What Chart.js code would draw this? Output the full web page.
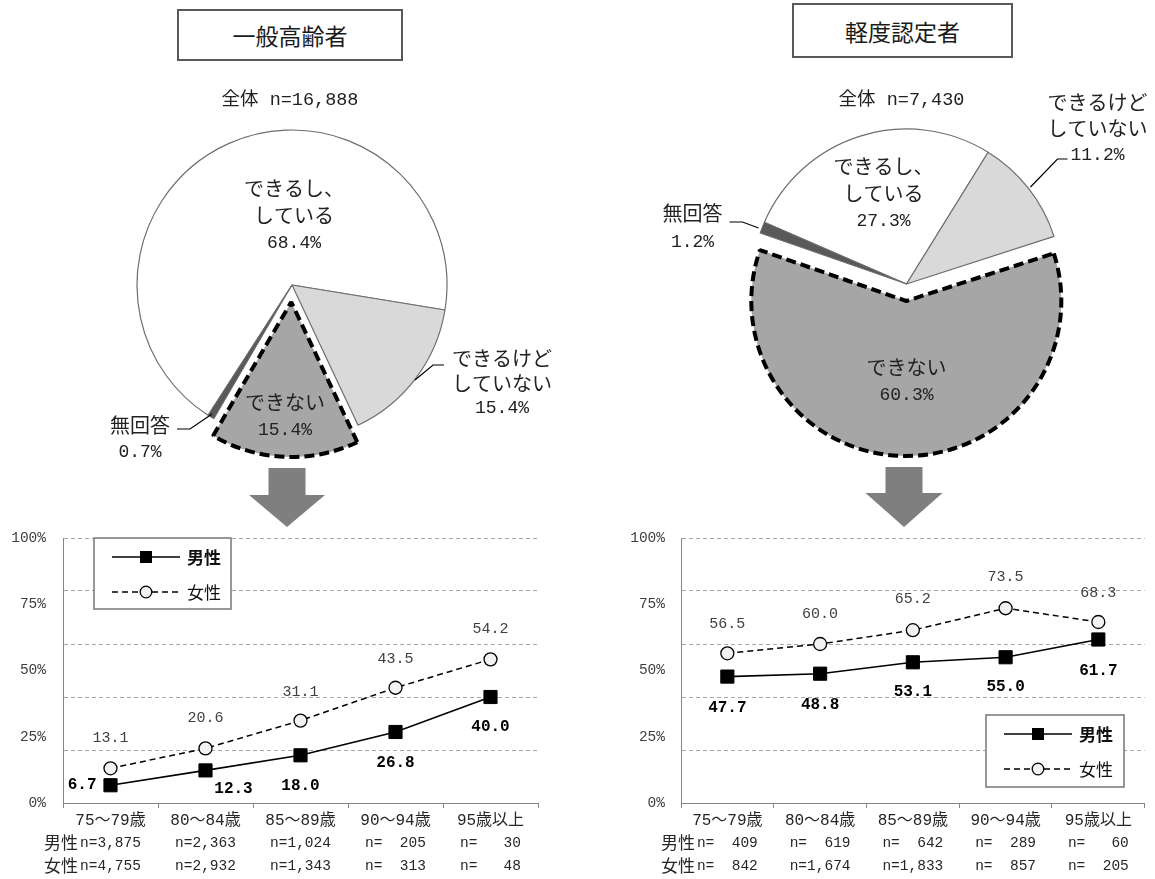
<!DOCTYPE html>
<html lang="ja">
<head>
<meta charset="utf-8">
<script src="https://cdn.jsdelivr.net/npm/chart.js@4/dist/chart.umd.min.js"></script>
<style>
html,body{margin:0;padding:0;background:#fff;width:1155px;height:879px;overflow:hidden;}
body{position:relative;}
canvas{position:absolute;}
.ttl{position:absolute;box-sizing:border-box;border:2px solid #595959;background:#fff;
  font-family:"Noto Sans CJK JP",sans-serif;font-size:23px;color:#1a1a1a;
  display:flex;align-items:center;justify-content:center;}
</style>
</head>
<body>
<div class="ttl" style="left:177px;top:9px;width:226px;height:52px;">一般高齢者</div>
<div class="ttl" style="left:792px;top:3px;width:221px;height:55px;">軽度認定者</div>
<canvas id="pieL" width="577" height="540" style="left:0;top:0"></canvas>
<canvas id="pieR" width="578" height="540" style="left:577px;top:0"></canvas>
<canvas id="lineL" width="577" height="379" style="left:0;top:500px"></canvas>
<canvas id="lineR" width="578" height="379" style="left:577px;top:500px"></canvas>
<script>
// ---- data ----
const pieCategories = ['できるし、している', 'できるけどしていない', 'できない', '無回答'];
const pieGeneral = [68.4, 15.4, 15.4, 0.7];
const pieLight = [27.3, 11.2, 60.3, 1.2];
const totalGeneral = 16888;
const totalLight = 7430;

const ageGroups = ['75～79歳', '80～84歳', '85～89歳', '90～94歳', '95歳以上'];
const generalMale = [6.7, 12.3, 18.0, 26.8, 40.0];
const generalFemale = [13.1, 20.6, 31.1, 43.5, 54.2];
const lightMale = [47.7, 48.8, 53.1, 55.0, 61.7];
const lightFemale = [56.5, 60.0, 65.2, 73.5, 68.3];
const generalMaleN = [3875, 2363, 1024, 205, 30];
const generalFemaleN = [4755, 2932, 1343, 313, 48];
const lightMaleN = [409, 619, 642, 289, 60];
const lightFemaleN = [842, 1674, 1833, 857, 205];

const yLabelTicks = [0, 25, 50, 75, 100];
const yGridTicks = [20, 40, 60, 80, 100];

// ---- fonts / colours ----
const MONO = '"Liberation Mono","Noto Sans CJK JP",monospace';
const JP = '"Noto Sans CJK JP",sans-serif';
const TEXT = '#222222';
const AXIS = '#868686';
const GRID = '#a6a6a6';

const fmtN = n => 'n=' + n.toLocaleString('en-US').padStart(5, ' ');
const pct = v => v.toFixed(1) + '%';

// pulls chosen slices out of the pie along their mid angle, keeping their radius
const explodePlugin = {
  id: 'explode',
  afterDatasetUpdate(chart, args, o) {
    args.meta.data.forEach((arc, i) => {
      const d = (o.distance || [])[i];
      if (!d) return;
      const mid = (arc.startAngle + arc.endAngle) / 2;
      arc.x += Math.cos(mid) * d;
      arc.y += Math.sin(mid) * d;
    });
  }
};

// ---- pie: labels, leader lines and the arrow below ----
const pieTextPlugin = {
  id: 'pieText',
  afterDraw(chart, args, o) {
    const ctx = chart.ctx;
    const arc = chart.getDatasetMeta(0).data[0];
    const cx = arc.x, cy = arc.y;
    const values = chart.data.datasets[0].data;
    ctx.save();
    ctx.fillStyle = TEXT;
    ctx.textAlign = 'center';
    ctx.textBaseline = 'middle';
    // header
    ctx.font = '18.5px ' + MONO;
    ctx.fillText('全体 n=' + o.total.toLocaleString('en-US'), cx + o.header[0], cy + o.header[1]);
    // slice labels
    o.labels.forEach(l => {
      const lines = l.name.map(t => ({t, f: '20px ' + JP}));
      lines.push({t: pct(values[l.idx]), f: '18px ' + MONO});
      lines.forEach((ln, i) => {
        ctx.font = ln.f;
        ctx.fillText(ln.t, cx + l.dx, cy + l.dy + i * l.lh);
      });
      if (l.leader) {
        ctx.strokeStyle = '#000';
        ctx.lineWidth = 1.2;
        ctx.beginPath();
        l.leader.forEach((p, i) => i ? ctx.lineTo(cx + p[0], cy + p[1]) : ctx.moveTo(cx + p[0], cy + p[1]));
        ctx.stroke();
      }
    });
    // arrow
    const a = o.arrow;
    ctx.fillStyle = '#7f7f7f';
    ctx.beginPath();
    ctx.moveTo(a.x - a.shaft, a.top);
    ctx.lineTo(a.x + a.shaft, a.top);
    ctx.lineTo(a.x + a.shaft, a.neck);
    ctx.lineTo(a.x + a.head, a.neck);
    ctx.lineTo(a.x, a.tip);
    ctx.lineTo(a.x - a.head, a.neck);
    ctx.lineTo(a.x - a.shaft, a.neck);
    ctx.closePath();
    ctx.fill();
    ctx.restore();
  }
};

function makePie(id, values, rotation, padding, textOpts) {
  return new Chart(document.getElementById(id), {
    type: 'pie',
    data: {
      labels: pieCategories,
      datasets: [{
        data: values,
        backgroundColor: ['#ffffff', '#d9d9d9', '#a6a6a6', '#595959'],
        borderColor: ['#6e6e6e', '#6e6e6e', '#000000', '#6e6e6e'],
        borderWidth: [1.2, 1.2, 4, 1],
        borderDash: c => (c.dataIndex === 2 ? [10, 5] : [])
      }]
    },
    options: {
      responsive: false,
      animation: false,
      devicePixelRatio: 1,
      rotation: rotation,
      radius: 155,
      layout: {padding: padding},
      events: [],
      plugins: {
        legend: {display: false},
        tooltip: {enabled: false},
        explode: {distance: [0, 0, 17, 0]},
        pieText: textOpts
      }
    },
    plugins: [explodePlugin, pieTextPlugin]
  });
}

makePie('pieL', pieGeneral, 212.8, {left: 7, top: 100, right: 0, bottom: 70}, {
  total: totalGeneral,
  header: [-2, -185],
  labels: [
    {idx: 0, name: ['できるし、', 'している'], dx: 2, dy: -97, lh: 27.5},
    {idx: 1, name: ['できるけど', 'していない'], dx: 210, dy: 73, lh: 25,
     leader: [[152, 80], [141, 80], [123, 95]]},
    {idx: 2, name: ['できない'], dx: -7, dy: 117, lh: 28},
    {idx: 3, name: ['無回答'], dx: -152, dy: 140, lh: 27,
     leader: [[-115, 144], [-102, 144], [-80, 129]]}
  ],
  arrow: {x: 287, shaft: 18.5, head: 38, top: 468, neck: 495, tip: 527}
});

makePie('pieR', pieLight, 293.5, {left: 81, top: 98, right: 0, bottom: 70}, {
  total: totalLight,
  header: [-5, -184],
  labels: [
    {idx: 0, name: ['できるし、', 'している'], dx: -23, dy: -118, lh: 27.5},
    {idx: 1, name: ['できるけど', 'していない'], dx: 191, dy: -182, lh: 26.5,
     leader: [[161, -125], [151, -125], [124, -97]]},
    {idx: 2, name: ['できない'], dx: 0, dy: 83, lh: 28},
    {idx: 3, name: ['無回答'], dx: -214, dy: -71, lh: 29,
     leader: [[-177, -62], [-164, -62], [-148, -56]]}
  ],
  arrow: {x: 904 - 577, shaft: 18.5, head: 38.5, top: 467, neck: 493, tip: 527}
});

// ---- line charts: value labels, legend box and n rows ----
const lineDecorPlugin = {
  id: 'lineDecor',
  afterDatasetsDraw(chart, args, o) {
    const ctx = chart.ctx;
    const area = chart.chartArea;
    ctx.save();
    ctx.textBaseline = 'middle';
    // value labels
    chart.data.datasets.forEach((ds, di) => {
      const meta = chart.getDatasetMeta(di);
      const pos = o.labelPos[di];
      ctx.font = di === 0 ? 'bold 16px ' + MONO : '15px ' + MONO;
      ctx.fillStyle = di === 0 ? '#000' : '#404040';
      meta.data.forEach((pt, i) => {
        const p = pos[i];
        ctx.textAlign = p.align || 'center';
        ctx.fillText(ds.data[i].toFixed(1), pt.x + p.dx, pt.y + p.dy);
      });
    });
    // legend box
    const b = o.legend;
    const bx = area.left + b.x, by = area.top + b.y;
    ctx.fillStyle = '#fff';
    ctx.fillRect(bx, by, b.w, b.h);
    ctx.strokeStyle = '#7f7f7f';
    ctx.lineWidth = 1.6;
    ctx.strokeRect(bx, by, b.w, b.h);
    const rows = [by + 19, by + 54];
    chart.data.datasets.forEach((ds, di) => {
      const y = rows[di];
      ctx.strokeStyle = '#000';
      ctx.lineWidth = 1.5;
      ctx.setLineDash(ds.borderDash || []);
      ctx.beginPath();
      ctx.moveTo(bx + 18, y);
      ctx.lineTo(bx + 86, y);
      ctx.stroke();
      ctx.setLineDash([]);
      if (di === 0) {
        ctx.fillStyle = '#000';
        ctx.fillRect(bx + 52 - 6, y - 6, 12, 12);
      } else {
        ctx.fillStyle = '#f2f2f2';
        ctx.beginPath();
        ctx.arc(bx + 52, y, 5.8, 0, Math.PI * 2);
        ctx.fill();
        ctx.lineWidth = 1.3;
        ctx.stroke();
      }
      ctx.fillStyle = '#111';
      ctx.textAlign = 'left';
      ctx.font = (di === 0 ? 'bold ' : '') + '17px ' + JP;
      ctx.fillText(ds.label, bx + 93, y + 1);
    });
    ctx.restore();
  },
  afterDraw(chart, args, o) {
    const ctx = chart.ctx;
    const xs = chart.scales.x;
    ctx.save();
    ctx.textBaseline = 'middle';
    ctx.fillStyle = '#262626';
    o.nRows.forEach((row, r) => {
      const y = o.nRowY[r];
      ctx.font = '14.5px ' + MONO;
      ctx.textAlign = 'center';
      let firstLeft = 0;
      row.values.forEach((n, i) => {
        const s = fmtN(n);
        const x = xs.getPixelForValue(i);
        if (i === 0) firstLeft = x - ctx.measureText(s).width / 2;
        ctx.fillText(s, x, y);
      });
      ctx.font = '17px ' + JP;
      ctx.textAlign = 'right';
      ctx.fillText(row.name, firstLeft - 2, y);
    });
    ctx.restore();
  }
};

function makeLine(id, male, female, maleN, femaleN, yWidth, yPad, padRight, labelPos, legend) {
  return new Chart(document.getElementById(id), {
    type: 'line',
    data: {
      labels: ageGroups,
      datasets: [
        {label: '男性', data: male, borderColor: '#000', borderWidth: 1.6,
         pointStyle: 'rect', pointRadius: 9.3, pointBackgroundColor: '#000',
         pointBorderColor: '#000', pointBorderWidth: 1, clip: false},
        {label: '女性', data: female, borderColor: '#000', borderWidth: 1.5, borderDash: [6, 4],
         pointStyle: 'circle', pointRadius: 6.5, pointBackgroundColor: '#f2f2f2',
         pointBorderColor: '#000', pointBorderWidth: 1.3, clip: false}
      ]
    },
    options: {
      responsive: false,
      animation: false,
      devicePixelRatio: 1,
      events: [],
      layout: {padding: {top: 38, right: padRight, left: 0, bottom: 0}},
      scales: {
        x: {
          offset: true,
          grid: {offset: true, drawOnChartArea: false, tickLength: 5, color: AXIS, lineWidth: 1},
          border: {color: AXIS, width: 1},
          ticks: {color: '#262626', font: {size: 16, family: MONO}, padding: 3, autoSkip: false, maxRotation: 0},
          afterFit: s => { s.height = 76; }
        },
        y: {
          min: 0, max: 100,
          afterBuildTicks: s => {
            s.ticks = [...new Set([...yLabelTicks, ...yGridTicks])].sort((a, b) => a - b).map(v => ({value: v}));
          },
          ticks: {
            color: '#404040', font: {size: 14.5, family: MONO}, padding: yPad, autoSkip: false,
            callback: v => (yLabelTicks.includes(v) ? v + '%' : '')
          },
          grid: {drawTicks: false, lineWidth: 1,
                 color: c => (yGridTicks.includes(c.tick.value) ? GRID : 'rgba(0,0,0,0)')},
          border: {color: AXIS, width: 1, dash: [4, 3]},
          afterFit: s => { s.width = yWidth; }
        }
      },
      plugins: {
        legend: {display: false},
        tooltip: {enabled: false},
        lineDecor: {
          labelPos: labelPos,
          legend: legend,
          nRowY: [843, 866].map(v => v - 500),
          nRows: [{name: '男性', values: maleN}, {name: '女性', values: femaleN}]
        }
      }
    },
    plugins: [lineDecorPlugin]
  });
}

const below = d => ({dx: 0, dy: d});
makeLine('lineL', generalMale, generalFemale, generalMaleN, generalFemaleN, 63, 17, 39,
  [
    [{dx: -14, dy: 0, align: 'right'}, {dx: 28, dy: 19}, below(31), below(31), below(30)],
    [below(-30), below(-30), below(-29), below(-29), below(-30)]
  ],
  {x: 31, y: 0, w: 137, h: 71});

makeLine('lineR', lightMale, lightFemale, lightMaleN, lightFemaleN, 104, 16, 1,
  [
    [below(31), below(31), below(30), below(30), below(31)],
    [below(-29), below(-30), below(-31), below(-31), below(-29)]
  ],
  {x: 305, y: 177, w: 138, h: 72});
</script>
</body>
</html>
